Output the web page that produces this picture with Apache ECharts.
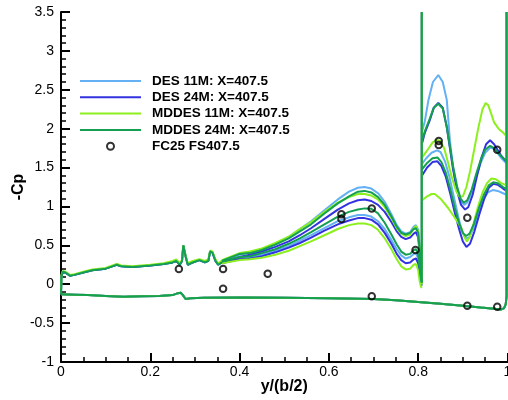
<!DOCTYPE html>
<html>
<head>
<meta charset="utf-8">
<script src="https://cdn.jsdelivr.net/npm/echarts@6/dist/echarts.min.js"></script>
<style>
html,body{margin:0;padding:0;background:#fff;}
#chart{width:508px;height:400px;}
</style>
</head>
<body>
<div id="chart"></div>
<script>
// ---------- DATA ----------
const seriesNames = ['DES 11M: X=407.5', 'DES 24M: X=407.5', 'MDDES 11M: X=407.5', 'MDDES 24M: X=407.5'];
const expName = 'FC25 FS407.5';
const xTicks = [0, 0.2, 0.4, 0.6, 0.8, 1];
const xTickLabels = ['0', '0.2', '0.4', '0.6', '0.8', '1'];
const yTicks = [-1, -0.5, 0, 0.5, 1, 1.5, 2, 2.5, 3, 3.5];
const yTickLabels = ['-1', '-0.5', '0', '0.5', '1', '1.5', '2', '2.5', '3', '3.5'];

// lower surface, closing at the tip
const lowerSurface = [[0.0,-0.13],[0.03,-0.135],[0.06,-0.14],[0.1,-0.15],[0.14,-0.16],[0.18,-0.155],[0.22,-0.15],[0.25,-0.14],[0.262,-0.115],[0.268,-0.11],[0.273,-0.14],[0.279,-0.19],[0.29,-0.18],[0.32,-0.175],[0.4,-0.172],[0.5,-0.175],[0.6,-0.18],[0.7,-0.19],[0.75,-0.205],[0.8,-0.228],[0.85,-0.25],[0.9,-0.278],[0.94,-0.3],[0.97,-0.315],[0.985,-0.325],[0.992,-0.31],[0.996,-0.26],[0.998,-0.15],[0.998,3.5]];

// upper surface inboard part
const upperRootA = [[0.0,-0.13],[0.001,0.1],[0.004,0.16],[0.01,0.15],[0.02,0.11],[0.03,0.12],[0.05,0.15],[0.07,0.18],[0.1,0.2],[0.115,0.23],[0.125,0.25],[0.135,0.23],[0.16,0.22],[0.2,0.24],[0.23,0.26],[0.25,0.28],[0.258,0.3],[0.266,0.25],[0.271,0.3],[0.274,0.5],[0.276,0.51],[0.279,0.36],[0.284,0.25],[0.295,0.28],[0.31,0.31],[0.322,0.28],[0.33,0.3],[0.334,0.42],[0.339,0.41],[0.346,0.3],[0.352,0.25],[0.36,0.28]];
const upperRootB = [[0.0,-0.13],[0.001,0.12],[0.004,0.17],[0.01,0.16],[0.02,0.12],[0.03,0.13],[0.05,0.16],[0.07,0.19],[0.1,0.21],[0.115,0.24],[0.125,0.26],[0.135,0.24],[0.16,0.23],[0.2,0.25],[0.23,0.27],[0.25,0.3],[0.258,0.32],[0.266,0.27],[0.271,0.31],[0.274,0.5],[0.276,0.5],[0.279,0.37],[0.284,0.27],[0.295,0.3],[0.31,0.32],[0.322,0.3],[0.33,0.32],[0.334,0.43],[0.339,0.42],[0.346,0.32],[0.352,0.27],[0.36,0.3]];

// upper branch (outer) 0.36 -> 0.808
const des11Upper = [[0.36,0.29],[0.4,0.38],[0.423,0.41],[0.45,0.45],[0.48,0.52],[0.51,0.61],[0.535,0.71],[0.56,0.81],[0.59,0.95],[0.62,1.09],[0.645,1.19],[0.665,1.24],[0.68,1.25],[0.695,1.23],[0.71,1.17],[0.725,1.06],[0.74,0.9],[0.752,0.76],[0.762,0.68],[0.772,0.65],[0.782,0.67],[0.79,0.74],[0.795,0.76],[0.8,0.7],[0.803,0.5],[0.806,0.2],[0.808,0.05],[0.808,3.5]];
const des24Upper = [[0.36,0.28],[0.4,0.35],[0.423,0.38],[0.45,0.42],[0.48,0.48],[0.51,0.55],[0.535,0.63],[0.56,0.72],[0.59,0.84],[0.62,0.96],[0.645,1.04],[0.665,1.08],[0.68,1.09],[0.695,1.07],[0.71,1.02],[0.725,0.93],[0.74,0.8],[0.752,0.68],[0.762,0.61],[0.772,0.58],[0.782,0.6],[0.79,0.65],[0.795,0.67],[0.8,0.6],[0.803,0.42],[0.806,0.15],[0.808,0.03],[0.808,3.5]];
const mddes11Upper = [[0.36,0.31],[0.4,0.4],[0.423,0.42],[0.45,0.46],[0.48,0.53],[0.51,0.61],[0.535,0.71],[0.56,0.8],[0.59,0.93],[0.62,1.05],[0.645,1.12],[0.665,1.16],[0.68,1.16],[0.695,1.14],[0.71,1.09],[0.725,0.99],[0.74,0.85],[0.752,0.72],[0.762,0.65],[0.772,0.62],[0.782,0.64],[0.79,0.72],[0.795,0.75],[0.8,0.68],[0.803,0.45],[0.806,0.15],[0.808,0.0],[0.808,3.5]];
const mddes24Upper = [[0.36,0.3],[0.4,0.39],[0.423,0.4],[0.45,0.44],[0.48,0.51],[0.51,0.59],[0.535,0.68],[0.56,0.77],[0.59,0.91],[0.62,1.04],[0.645,1.13],[0.665,1.19],[0.68,1.2],[0.695,1.18],[0.71,1.12],[0.725,1.02],[0.74,0.87],[0.752,0.74],[0.762,0.66],[0.772,0.64],[0.782,0.66],[0.79,0.71],[0.795,0.72],[0.8,0.66],[0.803,0.45],[0.806,0.15],[0.808,0.02],[0.808,3.5]];

// inner branch 0.36 -> 0.808
const des11Inner = [[0.36,0.28],[0.4,0.33],[0.423,0.35],[0.45,0.38],[0.48,0.43],[0.51,0.49],[0.535,0.56],[0.56,0.63],[0.59,0.72],[0.62,0.81],[0.645,0.86],[0.665,0.89],[0.68,0.89],[0.695,0.87],[0.71,0.81],[0.725,0.71],[0.74,0.57],[0.752,0.45],[0.762,0.37],[0.772,0.33],[0.782,0.35],[0.79,0.39],[0.795,0.4],[0.8,0.33],[0.803,0.2],[0.806,0.06],[0.808,0.0]];
const des24Inner = [[0.36,0.27],[0.4,0.32],[0.423,0.33],[0.45,0.36],[0.48,0.41],[0.51,0.47],[0.535,0.53],[0.56,0.6],[0.59,0.69],[0.62,0.77],[0.645,0.82],[0.665,0.85],[0.68,0.85],[0.695,0.83],[0.71,0.77],[0.725,0.66],[0.74,0.52],[0.752,0.39],[0.762,0.31],[0.772,0.27],[0.782,0.28],[0.79,0.32],[0.795,0.33],[0.8,0.27],[0.803,0.15],[0.806,0.03],[0.808,-0.02]];
const mddes11Inner = [[0.36,0.27],[0.4,0.31],[0.423,0.32],[0.45,0.34],[0.48,0.38],[0.51,0.43],[0.535,0.49],[0.56,0.55],[0.59,0.63],[0.62,0.71],[0.645,0.76],[0.665,0.78],[0.68,0.78],[0.695,0.76],[0.71,0.7],[0.725,0.59],[0.74,0.45],[0.752,0.32],[0.762,0.23],[0.772,0.19],[0.782,0.2],[0.79,0.25],[0.795,0.26],[0.8,0.18],[0.803,0.05],[0.806,-0.03],[0.808,-0.05]];
const mddes24Inner = [[0.36,0.29],[0.4,0.35],[0.423,0.36],[0.45,0.4],[0.48,0.45],[0.51,0.52],[0.535,0.59],[0.56,0.67],[0.59,0.77],[0.62,0.87],[0.645,0.93],[0.665,0.96],[0.68,0.975],[0.695,0.97],[0.71,0.91],[0.725,0.79],[0.74,0.64],[0.752,0.51],[0.762,0.42],[0.772,0.38],[0.782,0.39],[0.79,0.44],[0.795,0.45],[0.8,0.38],[0.803,0.22],[0.806,0.08],[0.808,0.02]];

// outboard element, upper curve 0.809 -> tip
const des11FlapUpper = [[0.809,1.97],[0.815,2.1],[0.823,2.37],[0.833,2.6],[0.845,2.69],[0.855,2.6],[0.864,2.37],[0.871,1.85],[0.878,1.5],[0.886,1.25],[0.895,1.08],[0.903,1.02],[0.91,1.05],[0.92,1.18],[0.93,1.38],[0.94,1.56],[0.95,1.69],[0.962,1.76],[0.972,1.73],[0.985,1.63],[0.998,1.55]];
const des24FlapUpper = [[0.809,1.82],[0.815,1.95],[0.826,2.11],[0.835,2.27],[0.845,2.33],[0.855,2.27],[0.864,2.02],[0.871,1.75],[0.878,1.48],[0.887,1.2],[0.896,1.02],[0.905,0.96],[0.912,0.99],[0.922,1.15],[0.932,1.4],[0.942,1.63],[0.952,1.8],[0.961,1.85],[0.97,1.8],[0.985,1.66],[0.998,1.57]];
const mddes11FlapUpper = [[0.809,1.63],[0.82,1.72],[0.832,1.82],[0.842,1.86],[0.85,1.84],[0.858,1.75],[0.866,1.58],[0.875,1.38],[0.885,1.2],[0.893,1.12],[0.9,1.13],[0.908,1.25],[0.916,1.45],[0.925,1.72],[0.935,2.02],[0.944,2.25],[0.951,2.33],[0.957,2.3],[0.963,2.2],[0.97,2.08],[0.98,2.0],[0.99,1.95],[0.998,1.9]];
const mddes24FlapUpper = [[0.809,1.85],[0.815,1.97],[0.826,2.13],[0.835,2.27],[0.845,2.32],[0.855,2.26],[0.864,2.02],[0.871,1.77],[0.878,1.52],[0.887,1.26],[0.895,1.1],[0.902,1.05],[0.91,1.08],[0.92,1.22],[0.93,1.42],[0.94,1.6],[0.95,1.73],[0.961,1.78],[0.97,1.75],[0.985,1.65],[0.998,1.58]];

// outboard element, lower curve 0.809 -> tip
const des11FlapLower = [[0.809,1.55],[0.818,1.62],[0.83,1.69],[0.842,1.72],[0.85,1.7],[0.86,1.58],[0.87,1.38],[0.88,1.12],[0.89,0.86],[0.898,0.68],[0.906,0.59],[0.914,0.6],[0.924,0.72],[0.935,0.92],[0.945,1.08],[0.956,1.18],[0.967,1.21],[0.978,1.2],[0.99,1.17],[0.998,1.15]];
const des24FlapLower = [[0.809,1.4],[0.82,1.5],[0.832,1.57],[0.843,1.58],[0.852,1.52],[0.862,1.38],[0.872,1.16],[0.882,0.92],[0.892,0.7],[0.9,0.55],[0.908,0.48],[0.916,0.52],[0.926,0.68],[0.937,0.9],[0.948,1.1],[0.958,1.24],[0.968,1.29],[0.978,1.28],[0.99,1.23],[0.998,1.2]];
const mddes11FlapLower = [[0.809,1.08],[0.82,1.13],[0.83,1.16],[0.837,1.16],[0.85,1.1],[0.867,0.98],[0.885,0.83],[0.897,0.72],[0.904,0.6],[0.909,0.55],[0.915,0.6],[0.924,0.78],[0.934,1.0],[0.944,1.18],[0.954,1.3],[0.964,1.36],[0.974,1.35],[0.986,1.3],[0.998,1.27]];
const mddes24FlapLower = [[0.809,1.48],[0.82,1.56],[0.832,1.62],[0.843,1.63],[0.852,1.57],[0.862,1.43],[0.872,1.22],[0.882,0.98],[0.892,0.78],[0.9,0.66],[0.907,0.62],[0.915,0.65],[0.925,0.78],[0.936,0.98],[0.947,1.15],[0.958,1.27],[0.968,1.31],[0.978,1.3],[0.99,1.25],[0.998,1.22]];

// experiment (FC25)
const expY = [0.264, 0.363, 0.363, 0.463, 0.628, 0.628, 0.696, 0.696, 0.794, 0.846, 0.846, 0.91, 0.91, 0.977, 0.977];
const expCp = [0.195, 0.195, -0.058, 0.135, 0.90, 0.84, 0.975, -0.156, 0.44, 1.84, 1.79, 0.855, -0.276, 1.73, -0.29];

const colors = ['#64b0f4', '#3232e0', '#8cf01e', '#14a050'];

// ---------- CHART ----------
const segmentsBySeries = [
  [lowerSurface, upperRootA, des11Upper, des11Inner, des11FlapUpper, des11FlapLower],
  [lowerSurface, upperRootA, des24Upper, des24Inner, des24FlapUpper, des24FlapLower],
  [lowerSurface, upperRootB, mddes11Upper, mddes11Inner, mddes11FlapUpper, mddes11FlapLower],
  [lowerSurface, upperRootA, mddes24Upper, mddes24Inner, mddes24FlapUpper, mddes24FlapLower]
];

const series = [];
segmentsBySeries.forEach((segs, i) => {
  segs.forEach(seg => {
    series.push({
      name: seriesNames[i],
      type: 'line',
      data: seg,
      symbol: 'none',
      showSymbol: false,
      color: colors[i],
      itemStyle: { color: colors[i], opacity: 0 },
      lineStyle: { color: colors[i], width: 2 },
      clip: true,
      animation: false,
      silent: true
    });
  });
});
series.push({
  name: expName,
  type: 'scatter',
  data: expY.map((v, k) => [v, expCp[k]]),
  symbol: 'circle',
  symbolSize: 6.5,
  itemStyle: { color: 'rgba(255,255,255,0)', borderColor: '#000', borderWidth: 2 },
  animation: false,
  silent: true,
  z: 5
});

const font = 'Liberation Sans, Arial, Helvetica, sans-serif';
const legendData = seriesNames.map(n => ({ name: n, itemStyle: { opacity: 0 } }))
  .concat([{ name: expName }]);

const chart = echarts.init(document.getElementById('chart'), null, { renderer: 'canvas' });
chart.setOption({
  backgroundColor: '#fff',
  animation: false,
  grid: { left: 61, right: 0.5, top: 12, bottom: 38, containLabel: false, outerBoundsMode: 'none' },
  legend: {
    orient: 'vertical', left: 74, top: 69,
    itemWidth: 61, itemHeight: 7, itemGap: 2.3,
    data: legendData,
    textStyle: { fontFamily: font, fontWeight: 'bold', fontSize: 13.5, color: '#000', lineHeight: 14, padding: [0, 0, 0, 6] },
    selectedMode: false
  },
  xAxis: {
    type: 'value', min: xTicks[0], max: xTicks[xTicks.length - 1], interval: xTicks[1] - xTicks[0],
    name: 'y/(b/2)', nameLocation: 'middle', nameGap: 17, nameMoveOverlap: false,
    nameTextStyle: { fontFamily: font, fontWeight: 'bold', fontSize: 16, color: '#000' },
    axisLine: { onZero: false, lineStyle: { color: '#000', width: 2 } },
    axisTick: { inside: true, length: 9, lineStyle: { color: '#000', width: 2 } },
    minorTick: { show: true, splitNumber: 4, length: 5, lineStyle: { color: '#000', width: 1.5 } },
    splitLine: { show: false },
    axisLabel: {
      fontFamily: font, fontSize: 14, color: '#000', margin: 3,
      formatter: v => { const k = xTicks.findIndex(t => Math.abs(t - v) < 1e-9); return k >= 0 ? xTickLabels[k] : ''; }
    }
  },
  yAxis: {
    type: 'value', min: yTicks[0], max: yTicks[yTicks.length - 1], interval: yTicks[1] - yTicks[0],
    name: '-Cp', nameLocation: 'middle', nameGap: 34, nameRotate: 90, nameMoveOverlap: false,
    nameTextStyle: { fontFamily: font, fontWeight: 'bold', fontSize: 16, color: '#000', padding: [0, 0, 0, 0] },
    axisLine: { onZero: false, lineStyle: { color: '#000', width: 2 } },
    axisTick: { inside: true, length: 9, lineStyle: { color: '#000', width: 2 } },
    minorTick: { show: true, splitNumber: 5, length: 5, lineStyle: { color: '#000', width: 1.5 } },
    splitLine: { show: false },
    axisLabel: {
      fontFamily: font, fontSize: 14, color: '#000', margin: 7,
      formatter: v => { const k = yTicks.findIndex(t => Math.abs(t - v) < 1e-9); return k >= 0 ? yTickLabels[k] : ''; }
    }
  },
  series: series
});
</script>
</body>
</html>
